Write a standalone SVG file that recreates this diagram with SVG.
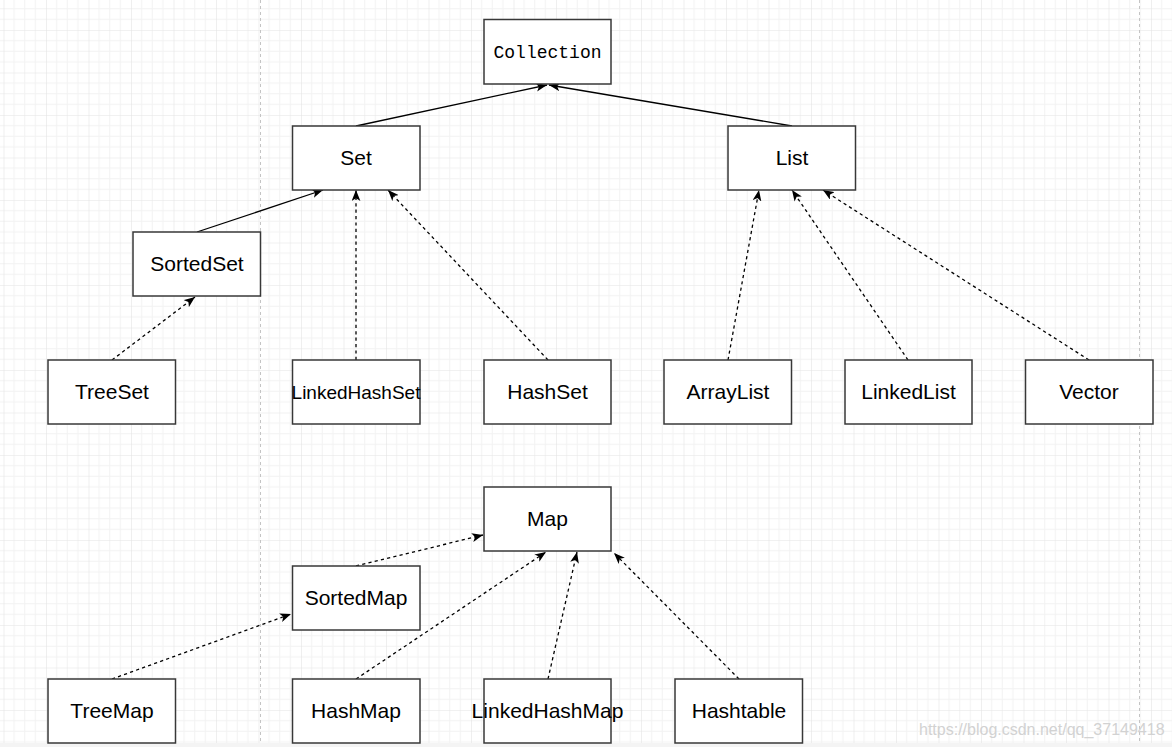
<svg xmlns="http://www.w3.org/2000/svg" width="1172" height="747" viewBox="0 0 1172 747">
<defs>
<pattern id="grid" patternUnits="userSpaceOnUse" x="3.5" y="30" width="42.5" height="42.5">
<path d="M10.625,0V42.5M21.25,0V42.5M31.875,0V42.5M0,10.625H42.5M0,21.25H42.5M0,31.875H42.5" stroke="#f2f2f2" stroke-width="1" fill="none"/>
<path d="M0,0V42.5M0,0H42.5" stroke="#e4e4e4" stroke-width="1.2" fill="none"/>
</pattern>
<marker id="arr" markerUnits="userSpaceOnUse" viewBox="0 0 10 8" refX="10" refY="4" markerWidth="11" markerHeight="9" orient="auto">
<path d="M0,0 L10,4 L0,8 L2.5,4 z" fill="#000"/>
</marker>
</defs>
<style>
.box{fill:#fff;stroke:#383838;stroke-width:1.5}
.lbl{font-family:"Liberation Sans",Arial,sans-serif;font-size:21px;fill:#000;text-anchor:middle}
.sm{font-size:19px}
.mono{font-family:"Liberation Mono","Courier New",monospace;font-size:18px;fill:#000;text-anchor:middle}
.e{fill:none;stroke:#000;stroke-width:1.3;marker-end:url(#arr)}
.d{stroke-dasharray:3.2 3.2}
.page{stroke:#c4c4c4;stroke-width:1;stroke-dasharray:3 3}
</style>
<rect width="1172" height="747" fill="#fff"/>
<rect width="1172" height="743" fill="url(#grid)"/>
<rect y="743" width="1172" height="4" fill="#f4f4f4"/>
<line class="page" x1="260.5" y1="0" x2="260.5" y2="743"/>
<line class="page" x1="1139.5" y1="0" x2="1139.5" y2="743"/>

<g id="connectors">
<path class="e" d="M356,126 L547,85"/>
<path class="e" d="M792,126 L549,85"/>
<path class="e" d="M197,232 L323,190"/>
<path class="e d" d="M112,360 L195,297"/>
<path class="e d" d="M356,360 L356,190"/>
<path class="e d" d="M548,360 L388,190"/>
<path class="e d" d="M728,360 L759,190"/>
<path class="e d" d="M908,360 L792,190"/>
<path class="e d" d="M1089,360 L823,190"/>
<path class="e d" d="M356,566 L483,535"/>
<path class="e d" d="M356,679 L546,552"/>
<path class="e d" d="M548,679 L577,552"/>
<path class="e d" d="M739,679 L614,553"/>
<path class="e d" d="M112,679 L291,614"/>
</g>

<g id="Collection"><rect class="box" x="484" y="19.5" width="127" height="64.5"/><text class="mono" x="547.5" y="58">Collection</text></g>
<g id="Set"><rect class="box" x="292.5" y="126" width="127.5" height="64"/><text class="lbl" x="356" y="165">Set</text></g>
<g id="List"><rect class="box" x="728" y="126" width="127.5" height="64"/><text class="lbl" x="792" y="165">List</text></g>
<g id="SortedSet"><rect class="box" x="133" y="232" width="127.5" height="64"/><text class="lbl" x="197" y="271">SortedSet</text></g>
<g id="TreeSet"><rect class="box" x="48" y="360" width="127.5" height="64"/><text class="lbl" x="112" y="399">TreeSet</text></g>
<g id="LinkedHashSet"><rect class="box" x="292.5" y="360" width="127.5" height="64"/><text class="lbl sm" x="356" y="398.5">LinkedHashSet</text></g>
<g id="HashSet"><rect class="box" x="484" y="360" width="127" height="64"/><text class="lbl" x="547.5" y="399">HashSet</text></g>
<g id="ArrayList"><rect class="box" x="664" y="360" width="127.5" height="64"/><text class="lbl" x="728" y="399">ArrayList</text></g>
<g id="LinkedList"><rect class="box" x="845" y="360" width="127" height="64"/><text class="lbl" x="908.5" y="399">LinkedList</text></g>
<g id="Vector"><rect class="box" x="1025.5" y="360" width="127.5" height="64"/><text class="lbl" x="1089" y="399">Vector</text></g>
<g id="Map"><rect class="box" x="484" y="487" width="127" height="64"/><text class="lbl" x="547.5" y="526">Map</text></g>
<g id="SortedMap"><rect class="box" x="292.5" y="566" width="127.5" height="64"/><text class="lbl" x="356" y="605">SortedMap</text></g>
<g id="TreeMap"><rect class="box" x="48" y="679" width="127.5" height="64"/><text class="lbl" x="112" y="718">TreeMap</text></g>
<g id="HashMap"><rect class="box" x="292.5" y="679" width="127.5" height="64"/><text class="lbl" x="356" y="718">HashMap</text></g>
<g id="LinkedHashMap"><rect class="box" x="484" y="679" width="127" height="64"/><text class="lbl" x="547.5" y="718">LinkedHashMap</text></g>
<g id="Hashtable"><rect class="box" x="675" y="679" width="127.5" height="64"/><text class="lbl" x="739" y="718">Hashtable</text></g>

<text x="919" y="735" font-family="'Liberation Sans',Arial,sans-serif" font-size="16" fill="#d2d2d2">https://blog.csdn.net/qq_37149418</text>
</svg>
